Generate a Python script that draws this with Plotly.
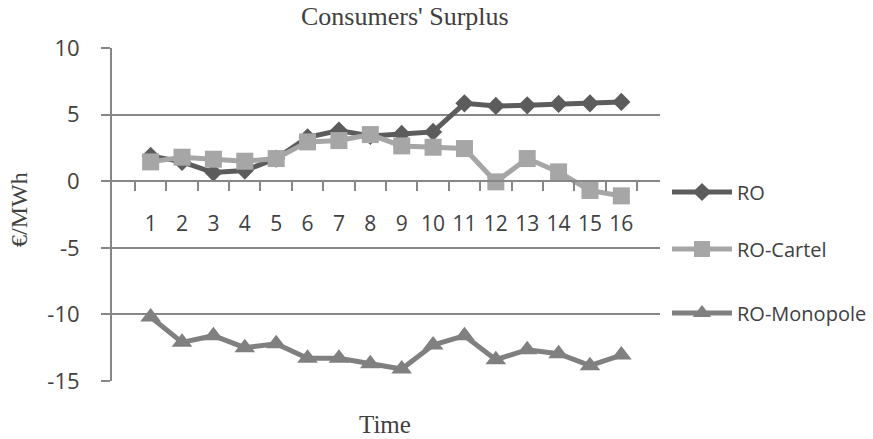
import plotly.graph_objects as go

periods = [str(i) for i in range(1, 17)]
ro = [1.9, 1.45, 0.65, 0.8, 1.7, 3.3, 3.8, 3.4, 3.55, 3.7, 5.85, 5.65, 5.7, 5.8, 5.85, 5.95]
ro_cartel = [1.45, 1.8, 1.65, 1.5, 1.7, 2.95, 3.05, 3.5, 2.65, 2.55, 2.45, -0.05, 1.7, 0.7, -0.7, -1.1]
ro_monopole = [-10.2, -12.1, -11.6, -12.5, -12.2, -13.3, -13.3, -13.7, -14.1, -12.3, -11.6, -13.4, -12.65, -12.95, -13.85, -13.05]
y_tickvals = [10, 5, 0, -5, -10, -15]
y_ticktext = ["10", "5", "0", "-5", "-10", "-15"]

AX = "#878787"
TXT = "#404040"
SANS = "Open Sans"
SERIF = "Liberation Serif"

fig = go.Figure()
fig.add_trace(go.Scatter(x=periods, y=ro, name="RO", mode="lines+markers",
                         line=dict(color="#5c5c5c", width=5),
                         marker=dict(symbol="diamond", size=14, color="#5c5c5c"),
                         legend="legend"))
fig.add_trace(go.Scatter(x=periods, y=ro_cartel, name="RO-Cartel", mode="lines+markers",
                         line=dict(color="#a6a6a6", width=5),
                         marker=dict(symbol="square", size=17, color="#a6a6a6"),
                         legend="legend2"))
fig.add_trace(go.Scatter(x=periods, y=ro_monopole, name="RO-Monopole", mode="lines+markers",
                         line=dict(color="#808080", width=5),
                         marker=dict(symbol="triangle-up", size=18, color="#808080"),
                         legend="legend3"))

L, R, T, B = 112, 213, 48, 58
pw = 873 - L - R
ph = 439 - T - B
def px(xp):
    return (xp - L) / pw
def py(yp):
    return (439 - B - yp) / ph

legend_common = dict(xanchor="left", yanchor="middle", bgcolor="rgba(0,0,0,0)",
                     font=dict(family=SANS, size=20, color=TXT), itemwidth=60,
                     tracegroupgap=0)
fig.update_layout(
    width=873, height=439,
    margin=dict(l=L, r=R, t=T, b=B, autoexpand=False),
    plot_bgcolor="white", paper_bgcolor="white",
    showlegend=True,
    legend=dict(x=px(667), y=py(192), **legend_common),
    legend2=dict(x=px(667), y=py(249), **legend_common),
    legend3=dict(x=px(667), y=py(313), **legend_common),
    xaxis=dict(type="category", anchor="free", position=0.6, automargin=False,
               showline=True, linecolor=AX, linewidth=2,
               ticks="outside", tickson="boundaries", ticklen=9, tickcolor=AX, tickwidth=2,
               showgrid=False, zeroline=False, tickangle=0,
               tickfont=dict(family=SANS, size=21, color=TXT),
               ticklabelstandoff=24),
    yaxis=dict(range=[-15, 10], domain=[0, 1], tickvals=y_tickvals, ticktext=y_ticktext,
               automargin=False,
               showline=True, linecolor=AX, linewidth=2,
               ticks="outside", ticklen=9, tickcolor=AX, tickwidth=2,
               showgrid=True, gridcolor=AX, gridwidth=2, zeroline=False,
               tickfont=dict(family=SANS, size=22, color=TXT),
               ticklabelstandoff=17),
    annotations=[
        dict(text="Consumers' Surplus", xref="paper", yref="paper", x=px(405), y=py(17),
             showarrow=False, font=dict(family=SERIF, size=26, color=TXT),
             xanchor="center", yanchor="middle"),
        dict(text="Time", xref="paper", yref="paper", x=px(385), y=py(424),
             showarrow=False, font=dict(family=SERIF, size=25, color=TXT),
             xanchor="center", yanchor="middle"),
        dict(text="€/MWh", xref="paper", yref="paper", x=px(19), y=py(210),
             showarrow=False, textangle=-90, font=dict(family=SERIF, size=24, color=TXT),
             xanchor="center", yanchor="middle"),
    ],
)

fig.write_html("out.html", config={"displayModeBar": False},
               post_script="document.body.style.margin='0';")
